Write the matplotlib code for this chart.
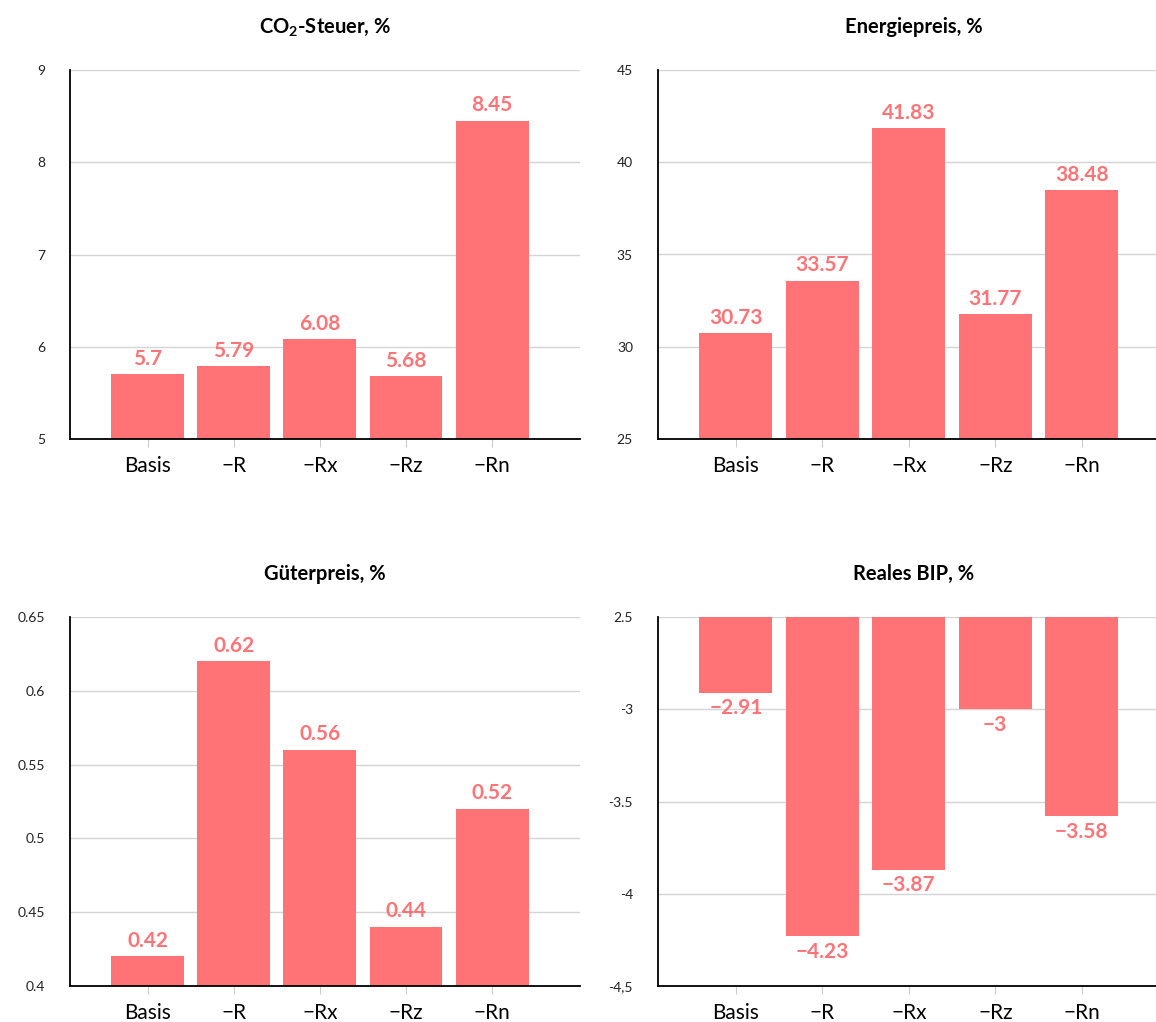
import matplotlib.pyplot as plt
import numpy as np

plt.rcParams['font.family'] = ['Lato', 'DejaVu Sans']
plt.rcParams['mathtext.fontset'] = 'custom'
plt.rcParams['mathtext.bf'] = 'Lato:bold'
plt.rcParams['mathtext.rm'] = 'Lato'

categories = ["Basis", "\u2212R", "\u2212Rx", "\u2212Rz", "\u2212Rn"]

co2_tax = [5.7, 5.79, 6.08, 5.68, 8.45]
energy_price = [30.73, 33.57, 41.83, 31.77, 38.48]
goods_price = [0.42, 0.62, 0.56, 0.44, 0.52]
real_gdp = [-2.91, -4.23, -3.87, -3.0, -3.58]

titles = [r"CO$_\mathbf{2}$-Steuer, %", "Energiepreis, %", "Güterpreis, %", "Reales BIP, %"]
yticks = [[5, 6, 7, 8, 9], [25, 30, 35, 40, 45],
          [0.4, 0.45, 0.5, 0.55, 0.6, 0.65], [-4.5, -4, -3.5, -3, -2.5]]
ytick_labels = [["5", "6", "7", "8", "9"], ["25", "30", "35", "40", "45"],
                ["0.4", "0.45", "0.5", "0.55", "0.6", "0.65"],
                ["-4,5", "-4", "-3.5", "-3", "2.5"]]
series = [co2_tax, energy_price, goods_price, real_gdp]

BAR = "#ff7377"
W, H = 1156, 1022
fig = plt.figure(figsize=(W / 100, H / 100), dpi=100)

# axes boxes in pixels: left, top, right, bottom
boxes = [(70, 70, 580, 439), (658, 70, 1170, 439),
         (70, 617, 580, 986), (658, 617, 1170, 986)]

x = np.arange(len(categories))
for i, (box, vals, ttl, yt, ytl) in enumerate(zip(boxes, series, titles, yticks, ytick_labels)):
    l, t, r, b = box
    ax = fig.add_axes([l / W, 1 - b / H, (r - l) / W, (b - t) / H])
    vals = np.array(vals)
    lo, hi = yt[0], yt[-1]
    negative = i == 3
    base = hi if negative else lo
    ax.bar(x, vals - base, bottom=base, width=0.845, color=BAR, zorder=2)
    ax.set_ylim(lo, hi)
    ax.set_xlim(-0.9, 5.02)
    ax.set_yticks(yt)
    ax.set_yticklabels(ytl)
    ax.grid(axis='y', color='#d4d4d4', lw=1, zorder=0)
    ax.set_axisbelow(True)
    for s in ['top', 'right']:
        ax.spines[s].set_visible(False)
    for s in ['left', 'bottom']:
        ax.spines[s].set_color('black')
        ax.spines[s].set_linewidth(1.3)
    ax.tick_params(axis='y', length=0, pad=18, labelsize=10, labelcolor='#222222')
    ax.tick_params(axis='x', length=6, color='#cccccc', pad=6, labelsize=15)
    ax.set_xticks(x)
    ax.set_xticklabels(categories)
    for xi, v in zip(x, vals):
        txt = f"{v:g}".replace('-', '\u2212')
        if negative:
            ax.annotate(txt, (xi, v), xytext=(0, -4), textcoords='offset points',
                        ha='center', va='top', color=BAR, fontsize=15, fontweight='bold')
        else:
            ax.annotate(txt, (xi, v), xytext=(0, 4), textcoords='offset points',
                        ha='center', va='bottom', color=BAR, fontsize=15, fontweight='bold')
    ax.set_title(ttl, fontsize=14.5, fontweight='bold', pad=27)

fig.savefig("out.png", dpi=100)
